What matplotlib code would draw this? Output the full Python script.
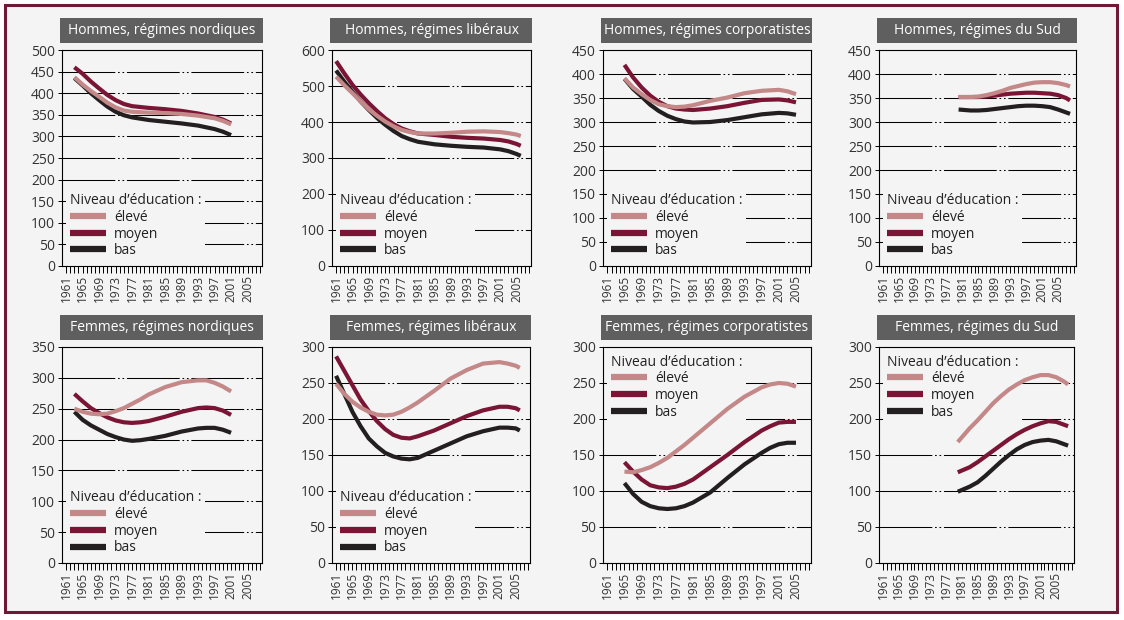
"""
Espérance / niveau par sexe, régime et niveau d'éducation -- 8 petits panneaux.
Writes out.png (1124x620).
"""

import matplotlib.pyplot as plt
from matplotlib.patches import Rectangle
from matplotlib.lines import Line2D
from matplotlib.ticker import MultipleLocator, FixedLocator

plt.rcParams['font.family'] = ['Open Sans', 'DejaVu Sans']
plt.rcParams['lines.scale_dashes'] = False

BG = '#f4f4f4'
FRAME = '#6e1a36'
TITLE_BG = '#5f5f5f'
C_ELEVE = '#c48888'
C_MOYEN = '#7b1535'
C_BAS = '#231f20'

LEVELS = ['élevé', 'moyen', 'bas']
YEAR_LABELS = list(range(1961, 2006, 4))

# --- data ----------------------------------------------------------------
h_nord_years = [1963, 1965, 1967, 1969, 1971, 1973, 1975, 1977, 1981, 1985, 1989, 1993, 1997, 1999, 2001]
h_nord_eleve = [437, 420, 405, 392, 378, 367, 360, 357, 355, 354, 352, 348, 342, 336, 328]
h_nord_moyen = [460, 445, 427, 411, 396, 384, 375, 370, 366, 363, 359, 353, 345, 339, 330]
h_nord_bas = [435, 418, 400, 384, 369, 357, 349, 344, 338, 334, 330, 325, 317, 311, 303]

h_lib_years = [1961, 1963, 1965, 1967, 1969, 1971, 1973, 1975, 1977, 1979, 1981, 1985, 1989, 1993, 1997, 2001, 2003, 2005, 2006]
h_lib_eleve = [526, 502, 480, 457, 435, 417, 401, 388, 378, 372, 368, 368, 370, 373, 374, 372, 369, 365, 361]
h_lib_moyen = [569, 535, 503, 476, 452, 430, 410, 394, 382, 374, 368, 364, 359, 356, 354, 350, 346, 339, 334]
h_lib_bas = [543, 512, 484, 457, 433, 411, 392, 375, 361, 352, 345, 338, 334, 331, 329, 324, 319, 311, 306]

h_corp_years = [1965, 1967, 1969, 1971, 1973, 1975, 1977, 1979, 1981, 1985, 1989, 1993, 1997, 2001, 2003, 2005]
h_corp_eleve = [391, 372, 358, 346, 337, 333, 331, 332, 335, 344, 351, 360, 365, 367, 364, 358]
h_corp_moyen = [419, 393, 372, 355, 342, 333, 328, 326, 325, 328, 333, 340, 346, 347, 345, 341]
h_corp_bas = [390, 369, 353, 336, 323, 313, 306, 301, 299, 300, 304, 310, 316, 319, 318, 315]

h_sud_years = [1980, 1983, 1985, 1987, 1989, 1991, 1993, 1995, 1997, 1999, 2001, 2003, 2005, 2007, 2008]
h_sud_eleve = [352, 352, 353, 356, 360, 365, 371, 375, 379, 382, 383, 383, 381, 377, 374]
h_sud_moyen = [352, 352, 352, 353, 355, 357, 359, 360, 361, 361, 360, 359, 356, 350, 345]
h_sud_bas = [326, 324, 324, 325, 327, 329, 331, 333, 334, 334, 333, 331, 326, 320, 317]

f_nord_years = [1963, 1965, 1967, 1969, 1971, 1973, 1975, 1977, 1979, 1981, 1985, 1989, 1993, 1995, 1997, 1999, 2001]
f_nord_eleve = [250, 245, 242, 241, 242, 246, 251, 258, 265, 273, 285, 293, 296, 296, 292, 286, 278]
f_nord_moyen = [274, 262, 251, 243, 236, 231, 228, 227, 228, 230, 237, 245, 251, 252, 251, 247, 240]
f_nord_bas = [245, 232, 223, 216, 209, 204, 200, 198, 199, 201, 206, 213, 218, 219, 219, 216, 211]

f_lib_years = [1961, 1963, 1965, 1967, 1969, 1971, 1973, 1975, 1977, 1979, 1981, 1985, 1989, 1993, 1997, 2001, 2003, 2005, 2006]
f_lib_eleve = [249, 235, 224, 216, 210, 206, 205, 206, 210, 216, 223, 239, 256, 268, 277, 279, 277, 274, 271]
f_lib_moyen = [287, 267, 247, 227, 211, 197, 186, 178, 174, 173, 176, 184, 194, 204, 212, 217, 217, 215, 212]
f_lib_bas = [260, 235, 210, 190, 173, 162, 153, 148, 145, 144, 146, 156, 166, 176, 183, 188, 188, 187, 184]

f_corp_years = [1965, 1967, 1969, 1971, 1973, 1975, 1977, 1979, 1981, 1985, 1989, 1993, 1997, 1999, 2001, 2003, 2005]
f_corp_eleve = [127, 126, 129, 133, 139, 146, 155, 164, 174, 194, 214, 231, 244, 248, 250, 249, 245]
f_corp_moyen = [140, 127, 116, 108, 105, 104, 106, 110, 116, 133, 150, 168, 184, 190, 195, 196, 196]
f_corp_bas = [111, 96, 85, 79, 76, 75, 76, 79, 84, 98, 118, 137, 153, 160, 165, 167, 167]

f_sud_years = [1980, 1983, 1985, 1987, 1989, 1991, 1993, 1995, 1997, 1999, 2001, 2003, 2005, 2007, 2008]
f_sud_eleve = [168, 187, 198, 210, 222, 232, 241, 248, 254, 258, 261, 261, 258, 252, 248]
f_sud_moyen = [126, 133, 140, 148, 156, 164, 172, 179, 185, 190, 194, 197, 196, 192, 190]
f_sud_bas = [99, 106, 112, 121, 131, 141, 150, 158, 164, 168, 170, 171, 169, 165, 163]

# title, years, series, ymax, ystep, xmax, legend loc, (left, right, top, bottom) px
panels = [
    ("Hommes, régimes nordiques", h_nord_years, (h_nord_eleve, h_nord_moyen, h_nord_bas),
     500, 50, 2008.5, 'lower left', (62, 262, 50, 266)),
    ("Hommes, régimes libéraux", h_lib_years, (h_lib_eleve, h_lib_moyen, h_lib_bas),
     600, 100, 2008.5, 'lower left', (332, 531, 50, 266)),
    ("Hommes, régimes corporatistes", h_corp_years, (h_corp_eleve, h_corp_moyen, h_corp_bas),
     450, 50, 2008.5, 'lower left', (603, 811, 50, 266)),
    ("Hommes, régimes du Sud", h_sud_years, (h_sud_eleve, h_sud_moyen, h_sud_bas),
     450, 50, 2009.5, 'lower left', (879, 1076, 50, 266)),
    ("Femmes, régimes nordiques", f_nord_years, (f_nord_eleve, f_nord_moyen, f_nord_bas),
     350, 50, 2008.5, 'lower left', (62, 262, 347, 563)),
    ("Femmes, régimes libéraux", f_lib_years, (f_lib_eleve, f_lib_moyen, f_lib_bas),
     300, 50, 2008.5, 'lower left', (332, 530, 347, 563)),
    ("Femmes, régimes corporatistes", f_corp_years, (f_corp_eleve, f_corp_moyen, f_corp_bas),
     300, 50, 2008.5, 'upper left', (603, 811, 347, 563)),
    ("Femmes, régimes du Sud", f_sud_years, (f_sud_eleve, f_sud_moyen, f_sud_bas),
     300, 50, 2009.5, 'upper left', (879, 1074, 347, 563)),
]

W, H = 1124, 620
fig = plt.figure(figsize=(W / 100, H / 100), dpi=100, facecolor='white')
# background panel with the maroon frame, kept behind the axes
fig.patches.append(Rectangle((5 / W, 1 - 612 / H), 1112 / W, 607 / H,
                             transform=fig.transFigure, facecolor=BG,
                             edgecolor=FRAME, linewidth=2.2, zorder=-5))

colors = [C_ELEVE, C_MOYEN, C_BAS]
grid_dash = (0, (38, 2, 1.2, 2, 1.2, 2))

for title, years, series, ymax, ystep, xmax, loc, (l, r, t, b) in panels:
    ax = fig.add_axes([l / W, 1 - b / H, (r - l) / W, (b - t) / H])
    ax.set_facecolor(BG)

    # draw bas first so the lighter lines sit on top like the original
    for vals, c in zip(series[::-1], colors[::-1]):
        ax.plot(years, vals, color=c, lw=3.0, solid_capstyle='butt',
                solid_joinstyle='round', zorder=3)

    ax.set_xlim(1960, xmax)
    ax.set_ylim(0, ymax)
    ax.yaxis.set_major_locator(MultipleLocator(ystep))
    ax.xaxis.set_major_locator(FixedLocator(YEAR_LABELS))
    ax.xaxis.set_minor_locator(FixedLocator(range(1961, int(xmax) + 1)))
    ax.set_xticklabels([str(y) for y in YEAR_LABELS], rotation=90, fontsize=8.5)
    ax.tick_params(axis='x', which='both', length=5, width=0.7, direction='out',
                   pad=1.5, colors='black', labelcolor='#333333')
    ax.tick_params(axis='y', length=3, width=0.7, pad=2, labelsize=10,
                   labelcolor='#333333')

    for yv in range(ystep, ymax, ystep):
        ax.axhline(yv, color='black', lw=0.75, linestyle=grid_dash, zorder=1)

    for s in ax.spines.values():
        s.set_linewidth(0.8)
        s.set_color('black')

    handles = [Line2D([], [], color=c, lw=4.5, solid_capstyle='butt') for c in colors]
    leg = ax.legend(handles, LEVELS, title="Niveau d’éducation :", loc=loc,
                    fontsize=10, title_fontsize=10, alignment='left',
                    frameon=True, facecolor=BG, edgecolor='none', framealpha=1,
                    fancybox=False, handlelength=2.6, handletextpad=0.6,
                    labelspacing=0.12, borderpad=0.25, borderaxespad=0.3)
    # above the grid, below the data lines
    leg.set_zorder(2)
    leg.get_title().set_color('#222222')
    for txt in leg.get_texts():
        txt.set_color('#222222')

    # grey title box above each panel
    fig.patches.append(Rectangle(((l - 2) / W, 1 - (t - 7) / H), (r - l + 3) / W, 25 / H,
                                 transform=fig.transFigure, facecolor=TITLE_BG,
                                 edgecolor='none', zorder=2))
    fig.text((l + r) / 2 / W, 1 - (t - 19.5) / H, title, color='white',
             fontsize=10, ha='center', va='center')

fig.savefig('out.png', dpi=100, facecolor=fig.get_facecolor())
